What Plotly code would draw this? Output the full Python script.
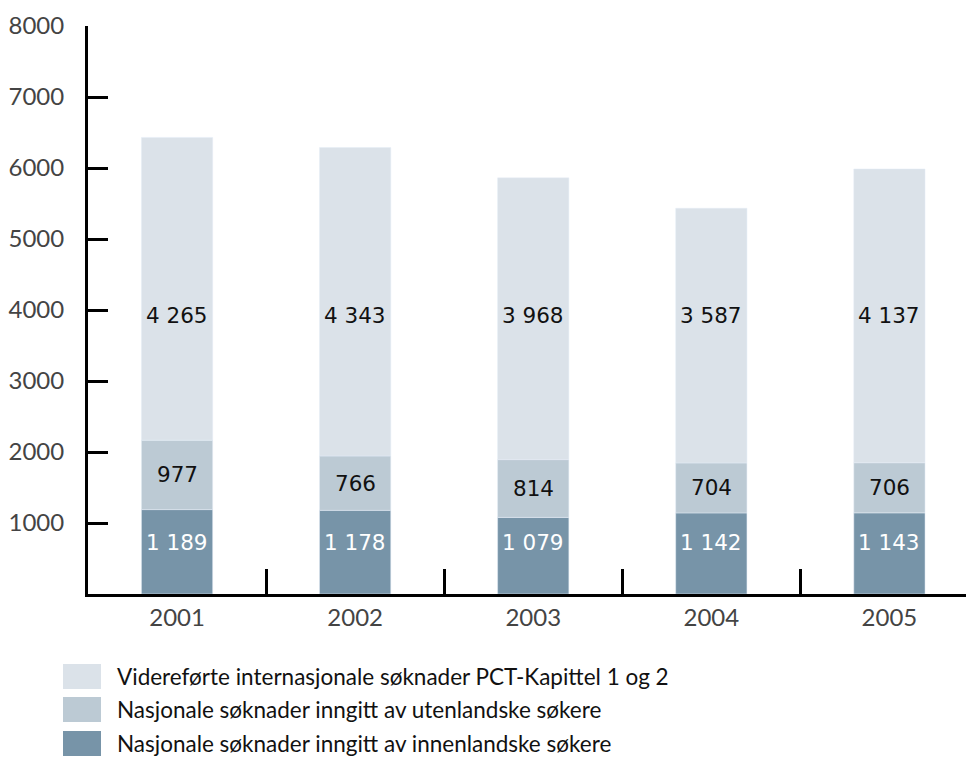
import plotly.graph_objects as go

years = ["2001", "2002", "2003", "2004", "2005"]
innenlandske = [1189, 1178, 1079, 1142, 1143]
utenlandske = [977, 766, 814, 704, 706]
videreforte = [4265, 4343, 3968, 3587, 4137]

series_names = [
    "Videreførte internasjonale søknader PCT-Kapittel 1 og 2",
    "Nasjonale søknader inngitt av utenlandske søkere",
    "Nasjonale søknader inngitt av innenlandske søkere",
]
colors = {"top": "#dbe2e9", "mid": "#bccad4", "bot": "#7794a8"}

W, H = 966, 760
ML, MR, MT, MB = 88, 0, 26, 166
PW, PH = W - ML - MR, H - MT - MB


def px(x):
    return (x - ML) / PW


def py(y):
    return (H - MB - y) / PH


def fmt(v):
    return f"{v:,}".replace(",", " ")


fig = go.Figure()
fig.add_trace(go.Bar(x=years, y=innenlandske, marker_color=colors["bot"], width=0.4,
                     name=series_names[2], showlegend=False, hoverinfo="skip"))
fig.add_trace(go.Bar(x=years, y=utenlandske, base=innenlandske, marker_color=colors["mid"], width=0.4,
                     name=series_names[1], showlegend=False, hoverinfo="skip"))
base_top = [a + b for a, b in zip(innenlandske, utenlandske)]
fig.add_trace(go.Bar(x=years, y=videreforte, base=base_top, marker_color=colors["top"], width=0.4,
                     name=series_names[0], showlegend=False, hoverinfo="skip"))

label_font = dict(family="DejaVu Sans", size=21.5)
annotations = []
for i, yr in enumerate(years):
    annotations.append(dict(x=i, y=720, text=fmt(innenlandske[i]), showarrow=False,
                            font=dict(color="white", **label_font), xref="x", yref="y"))
    annotations.append(dict(x=i, y=innenlandske[i] + utenlandske[i] / 2, text=fmt(utenlandske[i]),
                            showarrow=False, font=dict(color="#111111", **label_font), xref="x", yref="y"))
    annotations.append(dict(x=i, y=3925, text=fmt(videreforte[i]), showarrow=False,
                            font=dict(color="#111111", **label_font), xref="x", yref="y"))

# custom legend
legend_rows = [(series_names[0], colors["top"], 664, 689),
               (series_names[1], colors["mid"], 697, 722),
               (series_names[2], colors["bot"], 731, 756)]
shapes = []
for name, col, y0, y1 in legend_rows:
    shapes.append(dict(type="rect", xref="paper", yref="paper", x0=px(63), x1=px(101),
                       y0=py(y1), y1=py(y0), fillcolor=col, line=dict(width=0), layer="above"))
    annotations.append(dict(xref="paper", yref="paper", x=px(115), y=py((y0 + y1) / 2),
                            xanchor="left", yanchor="middle", text=name, showarrow=False,
                            font=dict(family="Lato", size=22.5, color="#111111")))

fig.update_layout(
    width=W, height=H,
    margin=dict(l=ML, r=MR, t=MT, b=MB, pad=0),
    paper_bgcolor="white", plot_bgcolor="white",
    barmode="overlay",
    shapes=shapes,
    annotations=annotations,
    xaxis=dict(type="category", range=[-0.5, 4.43], showgrid=False, zeroline=False,
               showline=True, linecolor="black", linewidth=3,
               ticks="inside", tickson="boundaries", ticklen=25, tickwidth=3, tickcolor="black",
               tickfont=dict(family="Lato", size=24, color="#444444"), ticklabelstandoff=0),
    yaxis=dict(range=[0, 8000], tickvals=[1000, 2000, 3000, 4000, 5000, 6000, 7000, 8000],
               ticktext=["1000", "2000", "3000", "4000", "5000", "6000", "7000", "8000"],
               showgrid=False, zeroline=False,
               showline=True, linecolor="black", linewidth=3,
               ticks="inside", ticklen=20, tickwidth=3, tickcolor="black",
               tickfont=dict(family="Lato", size=24, color="#444444"), ticklabelstandoff=16),
)

fig.write_html("out.html", config={"displayModeBar": False},
               post_script="document.body.style.margin='0';document.body.style.overflow='hidden';")
